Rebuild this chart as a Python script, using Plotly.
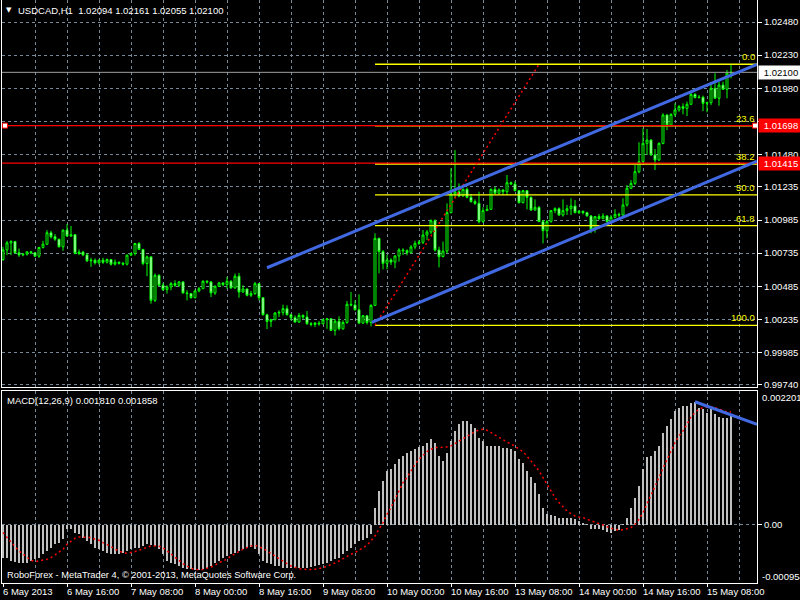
import plotly.graph_objects as go

# ---------------- data ----------------
OPEN = [1.00687,1.00760,1.00813,1.00823,1.00738,1.00722,1.00727,1.00745,1.00738,1.00712,
        1.00778,1.00803,1.00889,1.00859,1.00841,1.00783,1.00909,1.00864,1.00874,1.00733,
        1.00743,1.00722,1.00677,1.00682,1.00662,1.00682,1.00667,1.00687,1.00652,1.00667,
        1.00659,1.00652,1.00720,1.00733,1.00808,1.00763,1.00657,1.00707,1.00379,1.00568,
        1.00493,1.00460,1.00480,1.00505,1.00493,1.00518,1.00435,1.00430,1.00399,1.00450,
        1.00467,1.00523,1.00518,1.00435,1.00485,1.00510,1.00498,1.00523,1.00472,1.00561,
        1.00442,1.00465,1.00417,1.00430,1.00505,1.00399,1.00270,1.00220,1.00233,1.00283,
        1.00288,1.00316,1.00270,1.00248,1.00215,1.00265,1.00253,1.00202,1.00197,1.00207,
        1.00202,1.00233,1.00240,1.00152,1.00222,1.00164,1.00212,1.00349,1.00344,1.00308,
        1.00207,1.00263,1.00212,1.00341,1.00847,1.00747,1.00658,1.00684,1.00668,1.00714,
        1.00759,1.00754,1.00739,1.00782,1.00809,1.00817,1.00872,1.00895,1.00980,1.00759,
        1.00709,1.00751,1.01041,1.01182,1.01199,1.01167,1.01217,1.01157,1.01124,1.01111,
        1.00973,1.01056,1.01066,1.01217,1.01187,1.01212,1.01199,1.01267,1.01257,1.01207,
        1.01116,1.01207,1.01157,1.01061,1.01081,1.00973,1.00905,1.00973,1.01056,1.01071,
        1.01023,1.01056,1.01071,1.01091,1.01041,1.01051,1.01041,1.01016,1.00915,1.01011,
        1.00996,1.01016,1.00973,1.01006,1.01028,1.01023,1.01099,1.01225,1.01262,1.01350,
        1.01426,1.01564,1.01589,1.01476,1.01438,1.01564,1.01778,1.01702,1.01783,1.01816,
        1.01841,1.01828,1.01859,1.01934,1.01909,1.01912,1.01866,1.01871,1.01979,1.01904,
        1.02004,1.01972,1.02094]
HIGH = [1.00783,1.00828,1.00833,1.00828,1.00770,1.00737,1.00750,1.00753,1.00740,1.00783,
        1.00828,1.00909,1.00904,1.00879,1.00843,1.00914,1.00955,1.00940,1.00879,1.00763,
        1.00753,1.00733,1.00700,1.00695,1.00690,1.00700,1.00695,1.00692,1.00687,1.00672,
        1.00669,1.00725,1.00738,1.00813,1.00818,1.00768,1.00717,1.00712,1.00581,1.00576,
        1.00510,1.00493,1.00518,1.00530,1.00525,1.00523,1.00455,1.00432,1.00460,1.00480,
        1.00530,1.00530,1.00525,1.00493,1.00518,1.00515,1.00556,1.00530,1.00581,1.00586,
        1.00493,1.00467,1.00450,1.00518,1.00510,1.00404,1.00278,1.00240,1.00291,1.00303,
        1.00346,1.00341,1.00278,1.00265,1.00283,1.00273,1.00298,1.00215,1.00215,1.00222,
        1.00240,1.00245,1.00245,1.00238,1.00258,1.00228,1.00374,1.00442,1.00379,1.00424,
        1.00268,1.00265,1.00349,1.00885,1.00852,1.00759,1.00721,1.00696,1.00719,1.00772,
        1.00772,1.00764,1.00797,1.00829,1.00834,1.00910,1.00910,1.00990,1.00990,1.00784,
        1.00822,1.01111,1.01376,1.01514,1.01262,1.01224,1.01230,1.01182,1.01141,1.01199,
        1.01081,1.01099,1.01224,1.01237,1.01224,1.01217,1.01325,1.01275,1.01279,1.01212,
        1.01212,1.01212,1.01162,1.01141,1.01091,1.00986,1.00986,1.01061,1.01081,1.01081,
        1.01141,1.01099,1.01149,1.01136,1.01061,1.01056,1.01048,1.01023,1.01016,1.01031,
        1.01036,1.01023,1.01023,1.01066,1.01041,1.01149,1.01250,1.01287,1.01401,1.01572,
        1.01677,1.01672,1.01596,1.01521,1.01572,1.01791,1.01783,1.01791,1.01866,1.01853,
        1.01866,1.01879,1.01949,1.01942,1.01929,1.01924,1.01879,1.02017,1.02093,1.02030,
        1.02030,1.02118,1.02161]
LOW = [1.00677,1.00720,1.00720,1.00733,1.00707,1.00712,1.00717,1.00727,1.00707,1.00700,
       1.00770,1.00796,1.00846,1.00828,1.00778,1.00753,1.00859,1.00859,1.00727,1.00720,
       1.00712,1.00669,1.00632,1.00649,1.00649,1.00654,1.00657,1.00642,1.00642,1.00649,
       1.00642,1.00642,1.00715,1.00717,1.00758,1.00644,1.00561,1.00354,1.00366,1.00485,
       1.00450,1.00430,1.00455,1.00480,1.00480,1.00430,1.00379,1.00392,1.00394,1.00440,
       1.00465,1.00505,1.00404,1.00420,1.00480,1.00485,1.00467,1.00467,1.00467,1.00399,
       1.00435,1.00409,1.00404,1.00420,1.00379,1.00265,1.00162,1.00177,1.00228,1.00253,
       1.00265,1.00265,1.00228,1.00210,1.00210,1.00238,1.00195,1.00182,1.00177,1.00187,
       1.00197,1.00164,1.00147,1.00114,1.00152,1.00157,1.00202,1.00334,1.00303,1.00202,
       1.00202,1.00197,1.00182,1.00336,1.00583,1.00613,1.00613,1.00646,1.00621,1.00671,
       1.00721,1.00719,1.00734,1.00764,1.00797,1.00804,1.00834,1.00880,1.00747,1.00628,
       1.00704,1.00734,1.01036,1.01149,1.01157,1.01162,1.01149,1.01116,1.01099,1.00960,
       1.00965,1.01056,1.01061,1.01182,1.01182,1.01174,1.01174,1.01250,1.01202,1.01111,
       1.01111,1.01066,1.01056,1.01056,1.00970,1.00809,1.00847,1.00965,1.01036,1.01016,
       1.01011,1.01023,1.01023,1.01036,1.01031,1.01028,1.01011,1.00885,1.00890,1.00986,
       1.00991,1.00965,1.00965,1.00998,1.01006,1.01006,1.01086,1.01220,1.01250,1.01338,
       1.01421,1.01476,1.01471,1.01363,1.01431,1.01557,1.01665,1.01697,1.01765,1.01803,
       1.01783,1.01770,1.01853,1.01904,1.01904,1.01808,1.01798,1.01853,1.01899,1.01848,
       1.01967,1.01904,1.02055]
CLOSE = [1.00760,1.00813,1.00823,1.00738,1.00722,1.00727,1.00745,1.00738,1.00712,1.00778,
         1.00803,1.00889,1.00859,1.00841,1.00783,1.00909,1.00864,1.00874,1.00733,1.00743,
         1.00722,1.00677,1.00682,1.00662,1.00682,1.00667,1.00687,1.00652,1.00667,1.00659,
         1.00652,1.00720,1.00733,1.00808,1.00763,1.00657,1.00707,1.00379,1.00568,1.00493,
         1.00460,1.00480,1.00505,1.00493,1.00518,1.00435,1.00430,1.00399,1.00450,1.00467,
         1.00523,1.00518,1.00435,1.00485,1.00510,1.00498,1.00523,1.00472,1.00561,1.00442,
         1.00465,1.00417,1.00430,1.00505,1.00399,1.00270,1.00220,1.00233,1.00283,1.00288,
         1.00316,1.00270,1.00248,1.00215,1.00265,1.00253,1.00202,1.00197,1.00207,1.00202,
         1.00233,1.00240,1.00152,1.00222,1.00164,1.00212,1.00349,1.00344,1.00308,1.00207,
         1.00263,1.00212,1.00341,1.00847,1.00747,1.00658,1.00684,1.00668,1.00714,1.00759,
         1.00754,1.00739,1.00782,1.00809,1.00817,1.00872,1.00895,1.00980,1.00759,1.00709,
         1.00751,1.01041,1.01182,1.01199,1.01167,1.01217,1.01157,1.01124,1.01111,1.00973,
         1.01056,1.01066,1.01217,1.01187,1.01212,1.01199,1.01267,1.01257,1.01207,1.01116,
         1.01207,1.01157,1.01061,1.01081,1.00973,1.00905,1.00973,1.01056,1.01071,1.01023,
         1.01056,1.01071,1.01091,1.01041,1.01051,1.01041,1.01016,1.00915,1.01011,1.00996,
         1.01016,1.00973,1.01006,1.01028,1.01023,1.01099,1.01225,1.01262,1.01350,1.01426,
         1.01564,1.01589,1.01476,1.01438,1.01564,1.01778,1.01702,1.01783,1.01816,1.01841,
         1.01828,1.01859,1.01934,1.01909,1.01912,1.01866,1.01871,1.01979,1.01904,1.02004,
         1.01972,1.02094,1.02100]

# MACD main and signal, in units of 1e-6
MACD_E6 = [-548,-548,-592,-603,-619,-619,-619,-592,-564,-537,
           -482,-427,-373,-318,-290,-230,-60,-71,-126,-153,
           -208,-263,-318,-373,-400,-427,-455,-482,-482,-482,
           -455,-427,-400,-373,-373,-345,-318,-330,-345,-400,
           -482,-592,-619,-647,-674,-701,-729,-729,-745,-745,
           -729,-701,-674,-619,-592,-537,-510,-482,-455,-427,
           -400,-373,-362,-400,-482,-592,-619,-647,-674,-674,
           -701,-701,-712,-712,-701,-701,-701,-690,-674,-658,
           -636,-619,-592,-564,-537,-482,-427,-373,-318,-263,
           -252,-208,-153,285,559,723,888,915,997,1080,
           1134,1189,1217,1244,1282,1299,1354,1408,1354,1134,
           1052,1189,1381,1545,1655,1710,1710,1655,1600,1436,
           1381,1299,1299,1299,1299,1271,1271,1244,1217,1080,
           1025,888,789,696,504,285,175,164,148,121,
           121,110,121,93,66,38,11,-71,-71,-71,
           -88,-110,-126,-99,-88,11,121,285,449,641,
           915,1118,1134,1217,1299,1518,1628,1737,1874,1929,
           1956,1956,2011,2028,1929,1902,1847,1929,1819,1776,
           1765,1754,1810]
SIGNAL_E6 = [-126,-208,-290,-356,-427,-482,-537,-581,-603,-592,
             -581,-564,-537,-493,-455,-400,-318,-263,-219,-197,
             -197,-197,-208,-236,-252,-290,-318,-356,-400,-427,
             -455,-466,-455,-438,-416,-389,-362,-345,-345,-351,
             -373,-427,-482,-537,-592,-636,-674,-712,-729,-740,
             -734,-718,-690,-663,-619,-592,-564,-510,-471,-427,
             -400,-373,-345,-334,-362,-384,-427,-471,-510,-548,
             -592,-636,-674,-701,-718,-729,-734,-734,-729,-718,
             -701,-680,-658,-625,-592,-553,-521,-482,-455,-416,
             -373,-334,-263,-181,-71,38,175,285,422,559,
             696,778,888,997,1080,1151,1206,1244,1271,1271,
             1271,1282,1299,1337,1381,1425,1463,1491,1534,1562,
             1573,1556,1518,1480,1436,1392,1354,1326,1299,1244,
             1206,1134,1052,970,888,778,669,559,449,367,
             296,230,186,148,132,121,93,66,38,22,
             0,-33,-55,-71,-88,-77,-66,-44,11,93,
             203,340,477,641,778,932,1080,1217,1354,1463,
             1545,1655,1776,1847,1902,1929,1940,1940,1929,1902,
             1874,1858,1858]

TICK_LABELS = ["6 May 2013", "6 May 16:00", "7 May 08:00", "8 May 00:00", "8 May 16:00",
               "9 May 08:00", "10 May 00:00", "10 May 16:00", "13 May 08:00",
               "14 May 00:00", "14 May 16:00", "15 May 08:00"]
BARS_PER_LABEL = 16
BARS_PER_GRID = 8
PRICE_TICKS = [1.02480, 1.02230, 1.01980, 1.01730, 1.01480, 1.01235,
               1.00985, 1.00735, 1.00485, 1.00235, 0.99985, 0.99740]
MACD_MAX, MACD_MIN = 0.002201, -0.000954

FIB_RATIOS = [0.0, 23.6, 38.2, 50.0, 61.8, 100.0]
FIB_LOW_BAR, FIB_LOW = 93, 1.00190
FIB_HIGH_BAR, FIB_HIGH = 134, 1.02161
CHANNEL_UPPER = [(66, 1.00625), (155, 1.01740)]
CHANNEL_LOWER = [(92.2, 1.00213), (184.25, 1.01376)]
RED_LEVELS = [1.01698, 1.01415]
BID = 1.02100
MACD_TREND = [(173, 0.002024), (188.5, 0.001653)]

TITLE = "USDCAD,H1\u00a0 1.02094 1.02161 1.02055 1.02100"
MACD_TITLE = "MACD(12,26,9) 0.001810 0.001858"
COPYRIGHT = "RoboForex - MetaTrader 4, \u00a9 2001-2013, MetaQuotes Software Corp."

# ---------------- styling / layout ----------------
W, H = 800, 600
FONT = "Liberation Sans"
LIME, GRID, BLUE, YEL = "#00FF00", "#778899", "#4169E1", "#FFFF00"
X_RANGE = [-0.25, 188.5]
MAIN_RANGE = [0.997248, 1.026461]


def px_x(p):
    return p / W


def px_y(p):
    return 1 - p / H


n = len(CLOSE)
bars = list(range(n))
fig = go.Figure()

fig.add_trace(go.Candlestick(
    x=bars, open=OPEN, high=HIGH, low=LOW, close=CLOSE,
    increasing=dict(line=dict(color=LIME, width=1), fillcolor="#000000"),
    decreasing=dict(line=dict(color=LIME, width=1), fillcolor="#FFFFFF"),
    whiskerwidth=0, xaxis="x", yaxis="y", showlegend=False, hoverinfo="skip"))


def ray(points, x_end):
    (x1, y1), (x2, y2) = points
    slope = (y2 - y1) / (x2 - x1)
    return [x1, x_end], [y1, y1 + slope * (x_end - x1)]


# fibo levels
fib_span = FIB_HIGH - FIB_LOW
for r in FIB_RATIOS:
    lvl = FIB_HIGH - r / 100.0 * fib_span
    fig.add_trace(go.Scatter(x=[FIB_LOW_BAR, X_RANGE[1]], y=[lvl, lvl], mode="lines",
                             line=dict(color=YEL, width=1.3), xaxis="x", yaxis="y",
                             showlegend=False, hoverinfo="skip"))
# red horizontal lines
for lv in RED_LEVELS:
    fig.add_trace(go.Scatter(x=X_RANGE, y=[lv, lv], mode="lines",
                             line=dict(color="#FF0000", width=1.3), xaxis="x", yaxis="y",
                             showlegend=False, hoverinfo="skip"))
# fibo base line
fig.add_trace(go.Scatter(x=[FIB_LOW_BAR, FIB_HIGH_BAR], y=[FIB_LOW, FIB_HIGH], mode="lines",
                         line=dict(color="#FF0000", width=1.5, dash="2px,3px"),
                         xaxis="x", yaxis="y", showlegend=False, hoverinfo="skip"))
# bid line
fig.add_trace(go.Scatter(x=X_RANGE, y=[BID, BID], mode="lines",
                         line=dict(color="#A0A0A0", width=1), xaxis="x", yaxis="y",
                         showlegend=False, hoverinfo="skip"))
# channel
for pts in (CHANNEL_UPPER, CHANNEL_LOWER):
    xs, ys = ray(pts, X_RANGE[1])
    fig.add_trace(go.Scatter(x=xs, y=ys, mode="lines", line=dict(color=BLUE, width=3),
                             xaxis="x", yaxis="y", showlegend=False, hoverinfo="skip"))
# selection handles on the first red line
fig.add_trace(go.Scatter(x=[0.5, 188], y=[RED_LEVELS[0], RED_LEVELS[0]], mode="markers",
                         marker=dict(symbol="square", size=5, color="#FFFFFF",
                                     line=dict(color="#FF0000", width=1)),
                         xaxis="x", yaxis="y", showlegend=False, hoverinfo="skip"))

# MACD panel
fig.add_trace(go.Bar(x=bars, y=[v / 1e6 for v in MACD_E6], width=0.3,
                     marker=dict(color="#C0C0C0", line=dict(width=0)),
                     xaxis="x2", yaxis="y2", showlegend=False, hoverinfo="skip"))
fig.add_trace(go.Scatter(x=bars, y=[v / 1e6 for v in SIGNAL_E6], mode="lines",
                         line=dict(color="#FF0000", width=1.5, dash="2px,3px"),
                         xaxis="x2", yaxis="y2", showlegend=False, hoverinfo="skip"))
fig.add_trace(go.Scatter(x=[p[0] for p in MACD_TREND], y=[p[1] for p in MACD_TREND],
                         mode="lines", line=dict(color=BLUE, width=3),
                         xaxis="x2", yaxis="y2", showlegend=False, hoverinfo="skip"))

grid_vals = list(range(0, n + BARS_PER_GRID, BARS_PER_GRID))
label_vals = [k * BARS_PER_LABEL for k in range(len(TICK_LABELS))]

axis_common = dict(showgrid=True, gridcolor=GRID, griddash="3px,3px", gridwidth=1,
                   zeroline=False, linecolor="#FFFFFF", linewidth=1, automargin=False)

fig.update_layout(
    width=W, height=H, margin=dict(l=0, r=0, t=0, b=0, autoexpand=False),
    paper_bgcolor="#000000", plot_bgcolor="#000000",
    font=dict(family=FONT, color="#FFFFFF", size=9),
    bargap=0,
    xaxis=dict(domain=[px_x(2), px_x(757)], range=X_RANGE, anchor="y",
               tickmode="array", tickvals=grid_vals, showticklabels=False, ticks="",
               showline=True, mirror=False, rangeslider=dict(visible=False), **axis_common),
    yaxis=dict(domain=[px_y(387), 1], range=MAIN_RANGE, anchor="x", side="right",
               tickmode="array", tickvals=PRICE_TICKS,
               ticktext=["%.5f" % v for v in PRICE_TICKS],
               ticks="outside", ticklen=4, tickcolor="#FFFFFF",
               tickfont=dict(family=FONT, size=9.5, color="#FFFFFF"),
               showline=True, mirror=True, **axis_common),
    xaxis2=dict(domain=[px_x(2), px_x(757)], range=X_RANGE, anchor="y2", matches="x",
                tickmode="array", tickvals=label_vals, ticktext=[""] * len(label_vals),
                ticks="outside", ticklen=3, tickcolor="#FFFFFF",
                minor=dict(tickmode="array", tickvals=grid_vals, showgrid=True,
                           gridcolor=GRID, griddash="3px,3px", ticks=""),
                showline=True, mirror=True, **axis_common),
    yaxis2=dict(domain=[px_y(583), px_y(391)], range=[MACD_MIN, MACD_MAX], anchor="x2",
                side="right", tickmode="array", tickvals=[0], ticktext=["0.00"],
                ticks="outside", ticklen=4, tickcolor="#FFFFFF",
                tickfont=dict(family=FONT, size=9.5, color="#FFFFFF"),
                showline=True, mirror=True, **axis_common),
)

ann = []


def text(x, y, s, size=9.5, color="#FFFFFF", xanchor="left", yanchor="middle", **kw):
    d = dict(x=x, y=y, text=s, showarrow=False, xanchor=xanchor, yanchor=yanchor,
             font=dict(family=FONT, size=size, color=color), borderpad=0)
    d.setdefault("xref", "paper")
    d.setdefault("yref", "paper")
    d.update(kw)
    ann.append(d)


text(px_x(5), px_y(10), "\u25bc", font=dict(family="DejaVu Sans", size=7, color="#FFFFFF"))
text(px_x(17), px_y(10), TITLE, size=9.5)
text(px_x(6), px_y(400), MACD_TITLE, size=9.5)
text(px_x(6), px_y(575), COPYRIGHT, size=9.3)
for v, lab in zip(label_vals, TICK_LABELS):
    text(v - 0.2, px_y(591), lab, size=9.5, xref="x2")
text(px_x(761), px_y(397), "%.6f" % MACD_MAX)
text(px_x(761), px_y(576), "%.6f" % MACD_MIN)

# fibo labels
for r in FIB_RATIOS:
    lvl = FIB_HIGH - r / 100.0 * fib_span
    text(px_x(756), lvl, "%.1f" % r, size=9.5, color=YEL, xanchor="right",
         yanchor="bottom", yref="y", yshift=1)

# price boxes on the right scale
text(px_x(758), BID, "%.5f" % BID, color="#000000", yref="y", bgcolor="#FFFFFF",
     width=42, align="center", borderpad=1)
for lv in RED_LEVELS:
    text(px_x(758), lv, "%.5f" % lv, color="#FFFFFF", yref="y", bgcolor="#FF0000",
         width=42, align="center", borderpad=1)

fig.update_layout(annotations=ann)
fig.write_html("out.html", config={"displayModeBar": False},
               post_script="document.body.style.margin='0';")
